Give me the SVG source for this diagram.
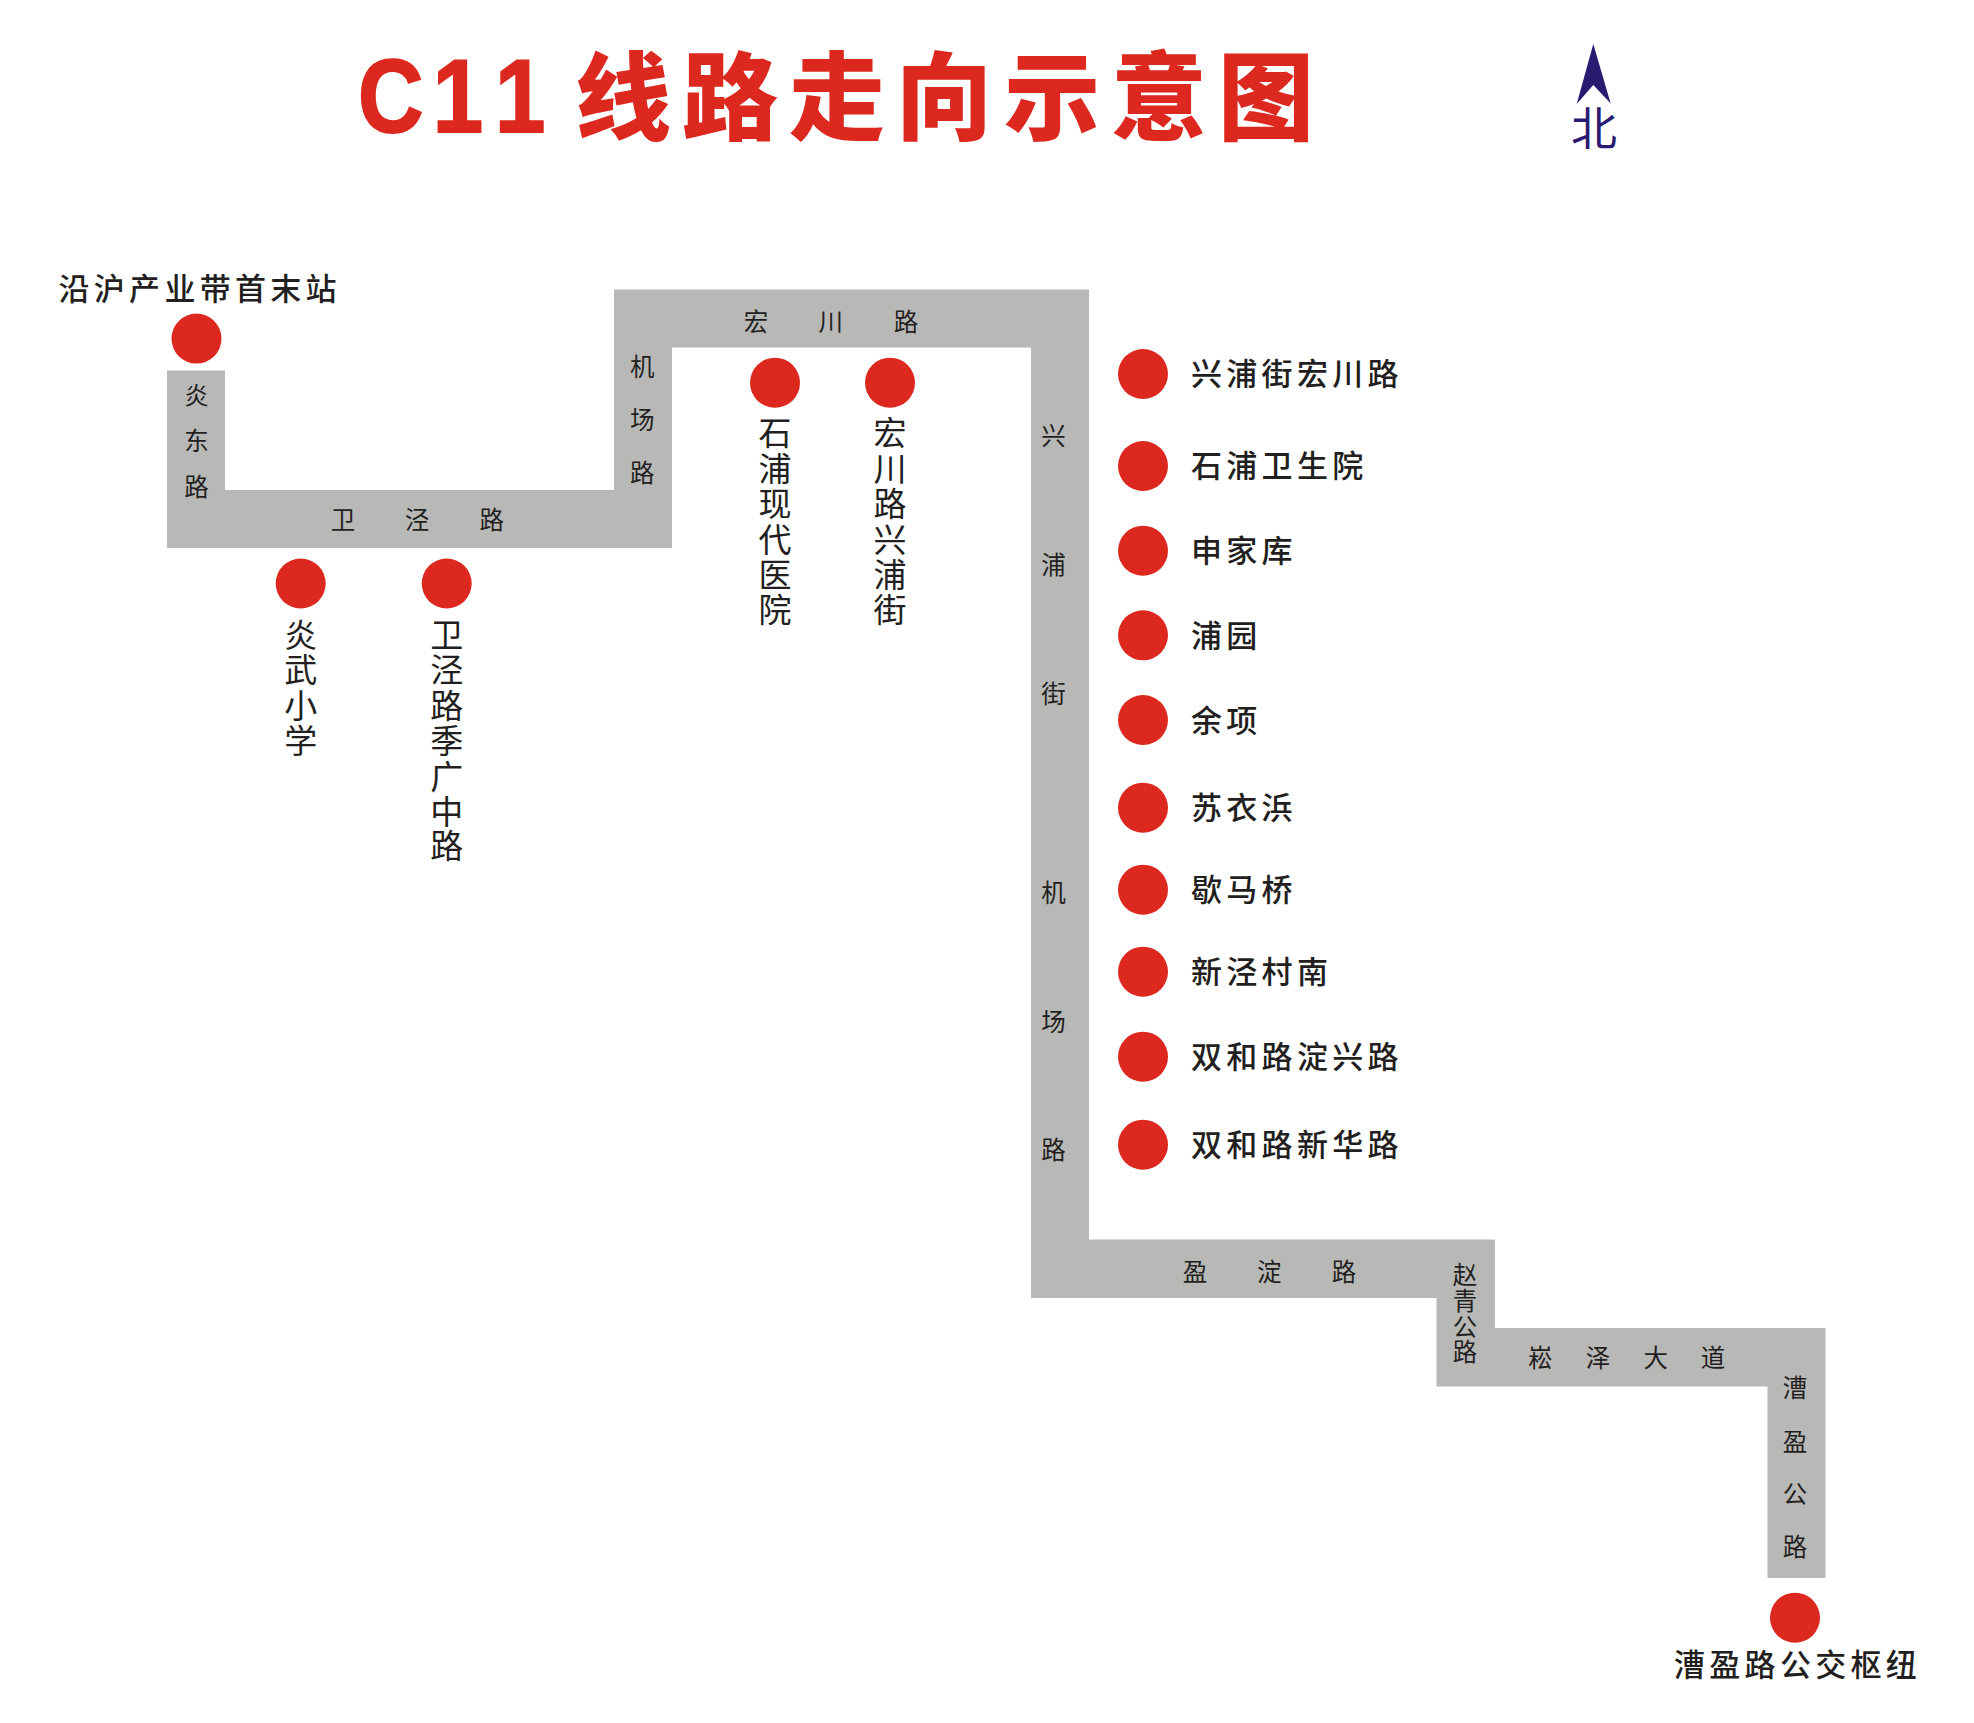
<svg xmlns="http://www.w3.org/2000/svg" width="1974" height="1723" viewBox="0 0 1974 1723">
<style>
text{font-family:"Noto Sans CJK SC","Liberation Sans",sans-serif;fill:#231f20;font-weight:400}
.stop{fill:#dc281e}
.road{fill:#b8b8b7}
.st{font-size:31px;letter-spacing:4.3px;font-weight:500}
.vs{font-size:33px;text-anchor:middle}
.rd{font-size:24.5px;text-anchor:middle}
.title{fill:#dc281e;font-weight:900}
</style>
<rect width="1974" height="1723" fill="#fff"/>
<g id="title">
<text class="title" transform="translate(358 132) scale(.87 1)" x="0 86 157.5" y="0" stroke="#dc281e" stroke-width="2" style="font-family:'Liberation Sans',sans-serif;font-weight:700;font-size:104px">C11</text>
<text class="title" x="575 682 789 896 1004 1111 1218" y="132" style="font-size:96px">线路走向示意图</text>
</g>
<g id="north">
<polygon points="1593.3,44 1610.7,103.5 1593.3,85 1576.7,104" fill="#2a1a72"/>
<text x="1594" y="144.5" text-anchor="middle" style="font-size:46px;fill:#2a1a72">北</text>
</g>
<g id="connectors">
<polygon class="road" points="167,370.5 225,370.5 225,490 614,490 614,289.5 1089,289.5 1089,1239.5 1495,1239.5 1495,1328 1825.5,1328 1825.5,1578 1767.5,1578 1767.5,1386.5 1436.5,1386.5 1436.5,1298 1031,1298 1031,347.5 672,347.5 672,548 167,548"/>
</g>
<g id="road-labels">
<text class="rd" x="196.5 196.5 196.5" y="404.5 450 495.5">炎东路</text>
<text class="rd" x="343 417 491.7" y="529 529 529">卫泾路</text>
<text class="rd" x="642.3 642.3 642.3" y="375.5 429 481.5">机场路</text>
<text class="rd" x="756 830.8 906" y="331 331 331">宏川路</text>
<text class="rd" x="1053.5 1053.5 1053.5" y="444.5 574 703">兴浦街</text>
<text class="rd" x="1053.5 1053.5 1053.5" y="901.8 1031 1158.7">机场路</text>
<text class="rd" x="1195 1269.3 1344" y="1281 1281 1281">盈淀路</text>
<text class="rd" x="1465 1465 1465 1465" y="1284 1309.7 1335.7 1360.7">赵青公路</text>
<text class="rd" x="1540.3 1598 1655.7 1713" y="1366.5 1366.5 1366.5 1366.5">崧泽大道</text>
<text class="rd" x="1795 1795 1795 1795" y="1397 1450.5 1503 1555.5">漕盈公路</text>
</g>
<g id="stop-yanhu"><circle class="stop" cx="196.5" cy="338.6" r="25"/><text class="st" x="58.5" y="299.5">沿沪产业带首末站</text></g>
<g id="stop-yanwu"><circle class="stop" cx="300.7" cy="583.5" r="25"/><text class="vs" x="300.7 300.7 300.7 300.7" y="646.5 682 717.5 752.5">炎武小学</text></g>
<g id="stop-weijing"><circle class="stop" cx="446.7" cy="583.5" r="25"/><text class="vs" x="446.7 446.7 446.7 446.7 446.7 446.7 446.7" y="647 682 717.5 752.5 788.5 823.5 857.5">卫泾路季广中路</text></g>
<g id="stop-shipu-xd"><circle class="stop" cx="775" cy="382.7" r="25"/><text class="vs" x="775 775 775 775 775 775" y="445 481 516 552 587 622">石浦现代医院</text></g>
<g id="stop-hongchuan"><circle class="stop" cx="890" cy="382.7" r="25"/><text class="vs" x="890 890 890 890 890 890" y="445 481 516 552 587 622">宏川路兴浦街</text></g>
<g id="stop-1"><circle class="stop" cx="1143" cy="374" r="25"/><text class="st" x="1191" y="385">兴浦街宏川路</text></g>
<g id="stop-2"><circle class="stop" cx="1143" cy="466" r="25"/><text class="st" x="1191" y="477">石浦卫生院</text></g>
<g id="stop-3"><circle class="stop" cx="1143" cy="550.7" r="25"/><text class="st" x="1191" y="561.7">申家库</text></g>
<g id="stop-4"><circle class="stop" cx="1143" cy="635.3" r="25"/><text class="st" x="1191" y="646.5">浦园</text></g>
<g id="stop-5"><circle class="stop" cx="1143" cy="720" r="25"/><text class="st" x="1191" y="731.5">余项</text></g>
<g id="stop-6"><circle class="stop" cx="1143" cy="807.7" r="25"/><text class="st" x="1191" y="818.7">苏衣浜</text></g>
<g id="stop-7"><circle class="stop" cx="1143" cy="889.7" r="25"/><text class="st" x="1191" y="900.7">歇马桥</text></g>
<g id="stop-8"><circle class="stop" cx="1143" cy="971.7" r="25"/><text class="st" x="1191" y="982.7">新泾村南</text></g>
<g id="stop-9"><circle class="stop" cx="1143" cy="1056.7" r="25"/><text class="st" x="1191" y="1067.7">双和路淀兴路</text></g>
<g id="stop-10"><circle class="stop" cx="1143" cy="1144.7" r="25"/><text class="st" x="1191" y="1155.7">双和路新华路</text></g>
<g id="stop-end"><circle class="stop" cx="1795" cy="1617.7" r="25"/><text class="st" x="1674" y="1675.5">漕盈路公交枢纽</text></g>
</svg>
